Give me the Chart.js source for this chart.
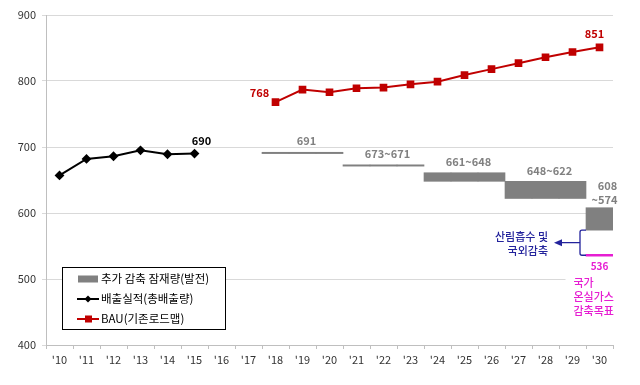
<!DOCTYPE html>
<html>
<head>
<meta charset="utf-8">
<script src="https://cdn.jsdelivr.net/npm/chart.js@4.4.0/dist/chart.umd.min.js"></script>
<style>
  html, body { margin: 0; padding: 0; background: #fff; }
  #wrap { width: 640px; height: 385px; }
</style>
</head>
<body>
<div id="wrap"><canvas id="c" width="640" height="385"></canvas></div>
<script>
// 연도 ('10 ~ '30)
const years = ["'10","'11","'12","'13","'14","'15","'16","'17","'18","'19","'20",
               "'21","'22","'23","'24","'25","'26","'27","'28","'29","'30"];

// 배출실적(총배출량)
const actual = [657, 682, 686, 695, 689, 690, null, null, null, null, null,
                null, null, null, null, null, null, null, null, null, null];

// BAU(기존로드맵)
const bau = [null, null, null, null, null, null, null, null, 768, 787, 783,
             789, 790, 795, 799, 809, 818, 827, 836, 844, 851];

// 추가 감축 잠재량(발전) : 하한 / 상한
const potentialLow  = [null, null, null, null, null, null, null, null, 690, 690, 690,
                       671, 671, 671, 648, 648, 648, 622, 622, 622, 574];
const potentialHigh = [null, null, null, null, null, null, null, null, 692, 692, 692,
                       673, 673, 673, 661, 661, 661, 648, 648, 648, 608];

// 구간 라벨 (가운데 연도 인덱스)
const rangeLabels = [
  { idx: 9,  text: ['691'] },
  { idx: 12, text: ['673~671'] },
  { idx: 15, text: ['661~648'] },
  { idx: 18, text: ['648~622'] },
  { idx: 20, text: ['608', '~574'] }
];

// 국가 온실가스 감축목표
const target = [null, null, null, null, null, null, null, null, null, null, null,
                null, null, null, null, null, null, null, null, null, 536];

const yTicks = [400, 500, 600, 700, 800, 900];

const RED = '#c00000';
const GRAY = '#808080';
const MAGENTA = '#e61ed2';
const NAVY = '#23239c';
const KFONT = '"Noto Sans CJK KR", "Noto Sans", sans-serif';

const potentialData = potentialLow.map((lo, i) => lo == null ? null : [lo, potentialHigh[i]]);
const targetData = target.map(v => v == null ? null : [v - 1.4, v + 1.4]);

// 텍스트 / 범례 / 괄호 그리기
const notes = {
  id: 'notes',
  beforeDatasetsDraw(chart) {
    // 목표 라벨 배경 (격자선 가림)
    const ctx = chart.ctx;
    const tx = chart.scales.x.getPixelForValue(20);
    const ty = chart.scales.y.getPixelForValue(target[20]);
    ctx.save();
    ctx.fillStyle = '#fff';
    ctx.fillRect(tx - 34, ty + 19, 54, 46);
    ctx.restore();
  },
  afterDatasetsDraw(chart) {
    const ctx = chart.ctx;
    const x = chart.scales.x, y = chart.scales.y;
    const step = x.getPixelForValue(1) - x.getPixelForValue(0);
    const tx = x.getPixelForValue(20);
    const ty = y.getPixelForValue(target[20]);
    ctx.save();
    ctx.textBaseline = 'middle';

    // 구간 라벨
    ctx.font = 'bold 11px ' + KFONT;
    ctx.fillStyle = GRAY;
    ctx.textAlign = 'center';
    rangeLabels.forEach(r => {
      const top = y.getPixelForValue(potentialHigh[r.idx]);
      if (r.text.length > 1) {
        const px = x.getPixelForValue(r.idx);
        ctx.fillText(r.text[0], px + 8, top - 22);
        ctx.fillText(r.text[1], px + 5, top - 8);
      } else {
        ctx.fillText(r.text[0], x.getPixelForValue(r.idx) + 4, top - 11);
      }
    });

    // 값 라벨
    ctx.fillStyle = '#000';
    ctx.fillText(String(actual[5]), x.getPixelForValue(5) + 7, y.getPixelForValue(actual[5]) - 13);
    ctx.fillStyle = RED;
    ctx.fillText(String(bau[8]), x.getPixelForValue(8) - 16, y.getPixelForValue(bau[8]) - 9);
    ctx.fillText(String(bau[20]), x.getPixelForValue(20) - 5, y.getPixelForValue(bau[20]) - 14);

    // 목표 라벨
    ctx.fillStyle = MAGENTA;
    ctx.font = 'bold 10px ' + KFONT;
    ctx.fillText(String(target[20]), tx, ty + 11);
    ctx.font = '500 11px ' + KFONT;
    ctx.textAlign = 'left';
    ['국가', '온실가스', '감축목표'].forEach((t, k) => ctx.fillText(t, tx - 26, ty + 28 + k * 14));

    // 괄호 + 화살표
    const bx = tx - step / 2 - 6;
    const top = y.getPixelForValue(potentialLow[20]);
    const mid = (top + ty) / 2;
    ctx.strokeStyle = NAVY;
    ctx.lineWidth = 1.3;
    ctx.beginPath();
    ctx.moveTo(bx + 6, top);
    ctx.lineTo(bx + 2, top);
    ctx.quadraticCurveTo(bx, top, bx, top + 2);
    ctx.lineTo(bx, ty - 2);
    ctx.quadraticCurveTo(bx, ty, bx + 2, ty);
    ctx.lineTo(bx + 6, ty);
    ctx.moveTo(bx, mid);
    ctx.lineTo(bx - 20, mid);
    ctx.stroke();
    ctx.fillStyle = NAVY;
    ctx.beginPath();
    ctx.moveTo(bx - 26, mid);
    ctx.lineTo(bx - 18, mid - 3.5);
    ctx.lineTo(bx - 18, mid + 3.5);
    ctx.closePath();
    ctx.fill();
    ctx.font = '500 11px ' + KFONT;
    ctx.textAlign = 'right';
    ctx.fillText('산림흡수 및', bx - 32, mid - 6);
    ctx.fillText('국외감축', bx - 32, mid + 8);

    // 범례
    const lx = 62.5, ly = 267.5, lw = 163, lh = 62;
    ctx.fillStyle = '#fff';
    ctx.fillRect(lx, ly, lw, lh);
    ctx.strokeStyle = '#000';
    ctx.lineWidth = 1;
    ctx.strokeRect(lx, ly, lw, lh);
    ctx.font = '11.5px ' + KFONT;
    ctx.textAlign = 'left';
    const ds = chart.data.datasets;
    [0, 1, 2].forEach((d, k) => {
      const ry = 279 + k * 20;
      const set = ds[d];
      if (set.type === 'bar') {
        ctx.fillStyle = GRAY;
        ctx.fillRect(78, ry - 3.5, 20, 7);
      } else {
        ctx.strokeStyle = set.borderColor;
        ctx.lineWidth = 2;
        ctx.beginPath();
        ctx.moveTo(77, ry);
        ctx.lineTo(99, ry);
        ctx.stroke();
        ctx.fillStyle = set.borderColor;
        if (set.pointStyle === 'rect') {
          ctx.fillRect(85, ry - 3.5, 7, 7);
        } else {
          ctx.beginPath();
          ctx.moveTo(88, ry - 3.5); ctx.lineTo(91.5, ry); ctx.lineTo(88, ry + 3.5); ctx.lineTo(84.5, ry);
          ctx.closePath();
          ctx.fill();
        }
      }
      ctx.fillStyle = '#000';
      ctx.fillText(set.label, 101, ry);
    });
    ctx.restore();
  }
};

new Chart(document.getElementById('c'), {
  type: 'bar',
  data: {
    labels: years,
    datasets: [
      {
        type: 'bar',
        label: '추가 감축 잠재량(발전)',
        data: potentialData,
        backgroundColor: GRAY,
        barPercentage: 1,
        categoryPercentage: 1,
        grouped: false,
        order: 3
      },
      {
        type: 'line',
        label: '배출실적(총배출량)',
        data: actual,
        borderColor: '#000',
        backgroundColor: '#000',
        borderWidth: 2,
        pointStyle: 'rectRot',
        pointRadius: 3.5,
        spanGaps: false,
        order: 1
      },
      {
        type: 'line',
        label: 'BAU(기존로드맵)',
        data: bau,
        borderColor: RED,
        backgroundColor: RED,
        borderWidth: 2,
        pointStyle: 'rect',
        pointRadius: 4,
        order: 1
      },
      {
        type: 'bar',
        label: '국가 온실가스 감축목표',
        data: targetData,
        backgroundColor: MAGENTA,
        barPercentage: 1,
        categoryPercentage: 1,
        grouped: false,
        order: 2
      }
    ]
  },
  options: {
    responsive: false,
    animation: false,
    layout: { padding: { top: 15, right: 27, left: 0, bottom: 0 } },
    plugins: {
      legend: { display: false },
      tooltip: { enabled: false }
    },
    scales: {
      x: {
        type: 'category',
        offset: true,
        grid: { display: true, offset: true, drawOnChartArea: false, tickLength: 4, color: '#bfbfbf' },
        border: { color: '#bfbfbf' },
        ticks: { color: '#333', font: { size: 11, family: KFONT }, padding: 4, maxRotation: 0, autoSkip: false },
        afterFit: s => { s.height = 40; }
      },
      y: {
        min: 400,
        max: 900,
        afterBuildTicks: s => { s.ticks = yTicks.map(v => ({ value: v })); },
        grid: { color: '#d9d9d9', tickLength: 4 },
        border: { color: '#bfbfbf' },
        ticks: { color: '#333', font: { size: 11, family: KFONT }, padding: 6 },
        afterFit: s => { s.width = 46; }
      }
    }
  },
  plugins: [notes]
});
</script>
</body>
</html>
